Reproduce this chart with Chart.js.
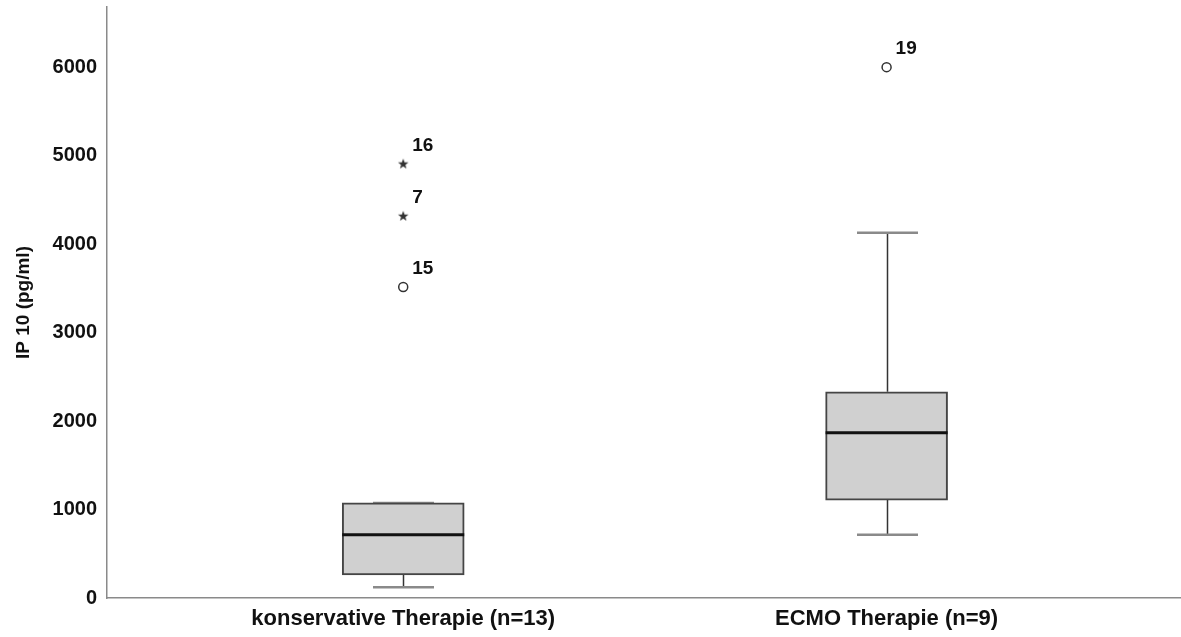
<!DOCTYPE html>
<html>
<head>
<meta charset="utf-8">
<script src="https://cdn.jsdelivr.net/npm/chart.js@4/dist/chart.umd.min.js"></script>
<style>
  body { margin: 0; background: #fff; }
  canvas { display: block; }
</style>
</head>
<body>
<canvas id="chart" width="1181" height="637"></canvas>
<script>
// Groups on the x axis
const categories = ['konservative Therapie (n=13)', 'ECMO Therapie (n=9)'];
const positions = [1, 2];

// Box plot summary (pg/ml)
const whiskerLow = [121, 715];
const q1 = [262, 1107];
const median = [715, 1868];
const q3 = [1075, 2331];
const whiskerHigh = [1075, 4128];

// Outliers: circles = mild, stars = extreme; labels are case numbers
const mildX = [1, 2];
const mildY = [3515, 6000];
const mildCase = ['15', '19'];
const extremeX = [1, 1];
const extremeY = [4320, 4910];
const extremeCase = ['7', '16'];

const yTicks = [0, 1000, 2000, 3000, 4000, 5000, 6000];

const FONT = 'Liberation Sans, Arial, sans-serif';
const BOX_W = 122;

// small filled five-point star for the extreme values
function makeStar() {
  const c = document.createElement('canvas');
  c.width = 12; c.height = 12;
  const g = c.getContext('2d');
  g.fillStyle = '#333';
  g.beginPath();
  for (let i = 0; i < 10; i++) {
    const r = i % 2 === 0 ? 5.5 : 2.3;
    const a = -Math.PI / 2 + i * Math.PI / 5;
    const px = 6 + r * Math.cos(a), py = 6.5 + r * Math.sin(a);
    i === 0 ? g.moveTo(px, py) : g.lineTo(px, py);
  }
  g.closePath();
  g.fill();
  return c;
}

const whiskers = {
  id: 'whiskers',
  beforeDatasetsDraw(chart) {
    const { ctx, scales: { x, y } } = chart;
    ctx.save();
    positions.forEach((p, i) => {
      const cx = Math.round(x.getPixelForValue(p)) + 0.5;
      ctx.strokeStyle = '#333';
      ctx.lineWidth = 1.5;
      ctx.beginPath();
      ctx.moveTo(cx, y.getPixelForValue(whiskerHigh[i]));
      ctx.lineTo(cx, y.getPixelForValue(q3[i]));
      ctx.moveTo(cx, y.getPixelForValue(q1[i]));
      ctx.lineTo(cx, y.getPixelForValue(whiskerLow[i]));
      ctx.stroke();
      ctx.strokeStyle = '#8a8a8a';
      ctx.lineWidth = 2.5;
      [whiskerHigh[i], whiskerLow[i]].forEach(v => {
        const py = y.getPixelForValue(v);
        ctx.beginPath();
        ctx.moveTo(cx - BOX_W / 4, py);
        ctx.lineTo(cx + BOX_W / 4, py);
        ctx.stroke();
      });
    });
    ctx.restore();
  },
  afterDatasetsDraw(chart) {
    const { ctx, scales: { x, y } } = chart;
    ctx.save();
    ctx.strokeStyle = '#111';
    ctx.lineWidth = 3;
    positions.forEach((p, i) => {
      const cx = x.getPixelForValue(p);
      const py = y.getPixelForValue(median[i]);
      ctx.beginPath();
      ctx.moveTo(cx - BOX_W / 2, py);
      ctx.lineTo(cx + BOX_W / 2, py);
      ctx.stroke();
    });
    // case numbers beside the outliers
    ctx.fillStyle = '#111';
    ctx.font = 'bold 19px ' + FONT;
    ctx.textBaseline = 'middle';
    ctx.textAlign = 'left';
    [[1, mildCase], [2, extremeCase]].forEach(([di, labels]) => {
      chart.getDatasetMeta(di).data.forEach((pt, j) => {
        ctx.fillText(labels[j], pt.x + 9, pt.y - 18);
      });
    });
    ctx.restore();
  }
};

new Chart(document.getElementById('chart'), {
  type: 'bar',
  data: {
    datasets: [
      {
        data: positions.map((p, i) => ({ x: p, y: [q1[i], q3[i]] })),
        backgroundColor: '#d0d0d0',
        borderColor: '#454545',
        borderWidth: 2,
        borderSkipped: false,
        barThickness: BOX_W
      },
      {
        type: 'scatter',
        data: mildX.map((v, i) => ({ x: v, y: mildY[i] })),
        pointStyle: 'circle',
        pointRadius: 4.5,
        pointBorderWidth: 1.5,
        pointBorderColor: '#333',
        pointBackgroundColor: '#fff'
      },
      {
        type: 'scatter',
        data: extremeX.map((v, i) => ({ x: v, y: extremeY[i] })),
        pointStyle: makeStar(),
        pointRadius: 6
      }
    ]
  },
  options: {
    responsive: false,
    animation: false,
    layout: { autoPadding: false, padding: { top: 7, right: 1, left: 0, bottom: 0 } },
    plugins: { legend: { display: false }, tooltip: { enabled: false } },
    scales: {
      x: {
        type: 'linear',
        offset: false,
        min: 0.3872,
        max: 2.607,
        grid: { display: false, drawTicks: false },
        border: { color: '#8a8a8a', width: 1.5 },
        afterBuildTicks: axis => { axis.ticks = positions.map(v => ({ value: v })); },
        afterFit: axis => { axis.height = 39; axis.paddingLeft = 0; axis.paddingRight = 0; },
        ticks: {
          padding: 8,
          color: '#111',
          font: { family: FONT, size: 22, weight: 'bold' },
          callback: v => categories[positions.indexOf(v)]
        }
      },
      y: {
        min: 0,
        max: 6680,
        grid: { display: false, drawTicks: false },
        border: { color: '#8a8a8a', width: 1.5 },
        afterBuildTicks: axis => { axis.ticks = yTicks.map(v => ({ value: v })); },
        afterFit: axis => { axis.width = 107; axis.paddingTop = 0; axis.paddingBottom = 0; },
        ticks: {
          padding: 10,
          color: '#111',
          font: { family: FONT, size: 20, weight: 'bold' },
          callback: v => String(v)
        },
        title: {
          display: true,
          text: 'IP 10 (pg/ml)',
          color: '#111',
          padding: { top: 12, bottom: 0 },
          font: { family: FONT, size: 19, weight: 'bold' }
        }
      }
    }
  },
  plugins: [whiskers]
});
</script>
</body>
</html>
